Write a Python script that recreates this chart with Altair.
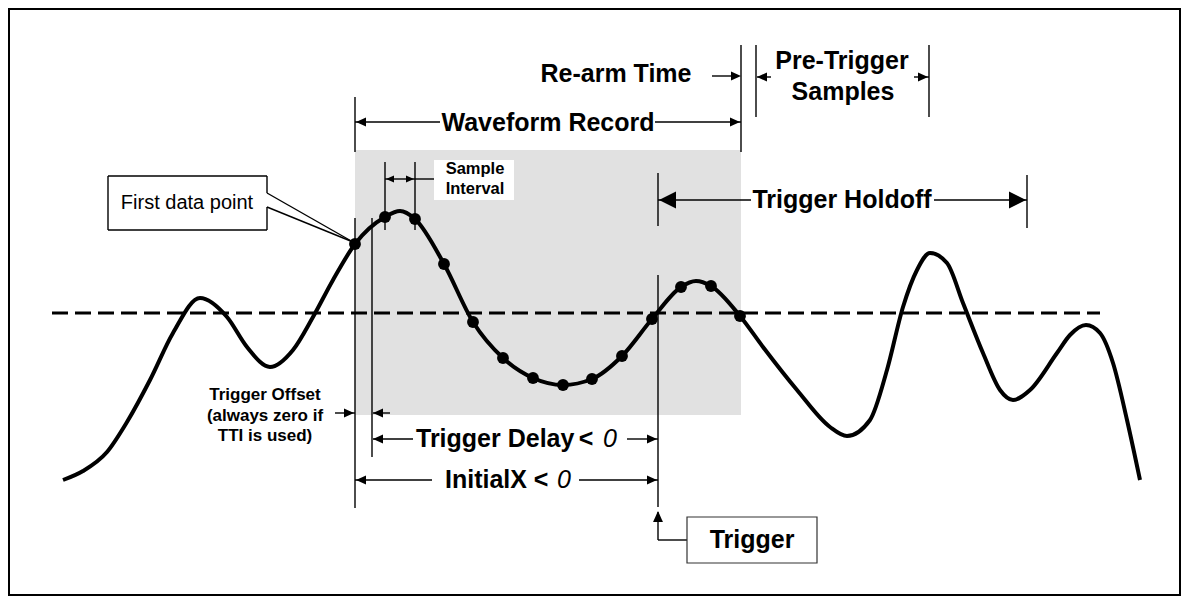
import altair as alt
import pandas as pd

# ---- coordinate frame (reference picture units) ----
X0, X1 = 8, 1181
Y0, Y1 = 8, 596
W, H = X1 - X0, Y1 - Y0
FONT = "Liberation Sans"

# ---- waveform ----
wave_x = [63, 83, 107, 127, 150, 173, 200, 227, 247, 270, 293, 313, 333, 355, 385, 400, 415,
          444, 473, 503, 533, 563, 592, 622, 652, 681, 696, 711, 740, 763, 797, 830, 847, 870,
          887, 903, 917, 930, 947, 963, 983, 1000, 1013, 1030, 1057, 1070, 1086, 1100, 1113,
          1127, 1140]
wave_y = [480, 471, 452, 422, 380, 333, 298, 317, 347, 367, 350, 317, 280, 244, 217, 211, 219,
          264, 322, 358, 378, 385, 379, 356, 319, 287, 281, 286, 316, 347, 390, 427, 436, 420,
          370, 307, 270, 253, 263, 303, 353, 390, 400, 390, 353, 335, 325, 333, 363, 420, 480]

# ---- sample dots ----
sample_x = [355, 385, 415, 444, 473, 503, 533, 563, 592, 622, 652, 681, 711, 740]
sample_y = [244, 217, 219, 264, 322, 358, 378, 385, 379, 356, 319, 287, 286, 316]

# ---- thin segments: x1, y1, x2, y2 ----
seg_x1 = [355, 741, 756, 929, 712, 757, 914, 355, 655, 385, 415, 385, 415, 355, 372, 658,
          658, 1027, 658, 934, 335, 373, 373, 627, 355, 579, 658, 658,
          108, 108, 108, 267, 267, 267, 267]
seg_y1 = [97, 45, 45, 45, 76, 77, 77, 122, 122, 162, 162, 179, 179, 218, 218, 275,
          173, 175, 200, 200, 413, 413, 439, 439, 480, 480, 512, 540,
          176, 230, 176, 176, 207, 193, 207]
seg_x2 = [355, 741, 756, 929, 735, 771, 929, 440, 741, 385, 415, 415, 434, 355, 372, 658,
          658, 1027, 751, 1027, 355, 390, 413, 658, 432, 658, 658, 687,
          267, 267, 108, 267, 267, 353, 353]
seg_y2 = [152, 152, 117, 117, 76, 77, 77, 122, 122, 230, 230, 179, 179, 508, 457, 507,
          226, 228, 200, 200, 413, 413, 439, 439, 480, 480, 540, 540,
          176, 230, 230, 193, 230, 242, 242]

# ---- arrowheads: tip position, direction, length ----
RIGHT = "M0,0L-1,-0.45L-1,0.45Z"
LEFT = "M0,0L1,-0.45L1,0.45Z"
UP = "M0,0L-0.45,1L0.45,1Z"
BIG_R = "M0,0L-1,-0.5L-1,0.5Z"
BIG_L = "M0,0L1,-0.5L1,0.5Z"
arrow_x = [741, 356, 740, 757, 928, 386, 414, 659, 1026, 354, 373, 373, 657, 356, 657, 658]
arrow_y = [76, 122, 122, 77, 77, 179, 179, 200, 200, 413, 413, 439, 439, 480, 480, 511]
arrow_shape = [RIGHT, LEFT, RIGHT, LEFT, RIGHT, LEFT, RIGHT, BIG_L, BIG_R, RIGHT, LEFT,
               LEFT, RIGHT, LEFT, RIGHT, UP]
arrow_len = [10, 10, 10, 10, 10, 8, 8, 17, 17, 10, 10, 10, 10, 10, 10, 11]

# ---- text ----
big_labels = ["Re-arm Time", "Waveform Record", "Pre-Trigger", "Samples", "Trigger Holdoff",
              "Trigger", "<", "<"]
big_x = [616, 548, 842, 843, 842, 752, 586, 541]
big_y = [74, 123, 61, 92, 200, 540, 439, 480]
left_labels = ["Trigger Delay", "InitialX"]
left_x = [416, 445]
left_y = [439, 480]
ital_labels = ["0", "0"]
ital_x = [610, 564]
ital_y = [439, 480]
small_labels = ["Trigger Offset", "(always zero if", "TTI is used)"]
small_x = [265, 265, 265]
small_y = [395, 416, 436]
tiny_labels = ["Sample", "Interval"]
tiny_x = [475, 475]
tiny_y = [169, 189]
reg_labels = ["First data point"]
reg_x = [187]
reg_y = [203]

xs = alt.Scale(domain=[X0, X1], nice=False, zero=False)
ys = alt.Scale(domain=[Y0, Y1], nice=False, zero=False, reverse=True)


def X(f="x"):
    return alt.X(f"{f}:Q", scale=xs, axis=None)


def Y(f="y"):
    return alt.Y(f"{f}:Q", scale=ys, axis=None)


def rects(x1, y1, x2, y2, **kw):
    df = pd.DataFrame({"x": x1, "y": y1, "x2": x2, "y2": y2})
    return alt.Chart(df).mark_rect(**kw).encode(x=X(), y=Y(), x2="x2:Q", y2="y2:Q")


def texts(labels, x, y, size, weight="bold", style="normal", align="center"):
    df = pd.DataFrame({"t": labels, "x": x, "y": y})
    return alt.Chart(df).mark_text(font=FONT, fontSize=size, fontWeight=weight,
                                   fontStyle=style, align=align, baseline="middle",
                                   color="black").encode(x=X(), y=Y(), text="t:N")


border = rects([9], [9], [1180], [Y1 - 1], fill=None, filled=False, stroke="black",
               strokeWidth=2)
gray = rects([355], [150], [741], [415], color="#e1e1e1")
white_box = rects([434], [160], [514], [200], color="white")
trig_box = rects([687], [517], [817], [563], fill="white", stroke="#333333", strokeWidth=1.2)

dashed = alt.Chart(pd.DataFrame({"x": [52], "x2": [1100], "y": [313]})).mark_rule(
    color="black", strokeWidth=3, strokeDash=[16, 7]).encode(x=X(), x2="x2:Q", y=Y())

segs = alt.Chart(pd.DataFrame({"x": seg_x1, "y": seg_y1, "x2": seg_x2, "y2": seg_y2})).mark_rule(
    color="black", strokeWidth=1.4).encode(x=X(), y=Y(), x2="x2:Q", y2="y2:Q")

wave = alt.Chart(pd.DataFrame({"x": wave_x, "y": wave_y, "i": range(len(wave_x))})).mark_line(
    color="black", strokeWidth=4, interpolate="monotone").encode(
    x=X(), y=Y(), order="i:Q")

dots = alt.Chart(pd.DataFrame({"x": sample_x, "y": sample_y})).mark_circle(
    color="black", size=140, opacity=1).encode(x=X(), y=Y())

arrows = alt.Chart(pd.DataFrame({"x": arrow_x, "y": arrow_y, "s": arrow_shape,
                                 "sz": [4 * l * l for l in arrow_len]})).mark_point(
    filled=True, color="black", opacity=1, strokeWidth=0).encode(
    x=X(), y=Y(), shape=alt.Shape("s:N", scale=None), size=alt.Size("sz:Q", scale=None))

chart = alt.layer(
    border, gray, white_box, dashed, segs, wave, dots, arrows, trig_box,
    texts(big_labels, big_x, big_y, 25),
    texts(left_labels, left_x, left_y, 25, align="left"),
    texts(ital_labels, ital_x, ital_y, 25, weight="normal", style="italic"),
    texts(small_labels, small_x, small_y, 17),
    texts(tiny_labels, tiny_x, tiny_y, 16.5),
    texts(reg_labels, reg_x, reg_y, 20, weight="normal"),
).properties(
    width=W, height=H, padding=0, autosize=alt.AutoSizeParams(type="none"),
    background="white"
).configure_view(stroke=None)

chart.save("out.html", embed_options={"renderer": "svg", "actions": False})
